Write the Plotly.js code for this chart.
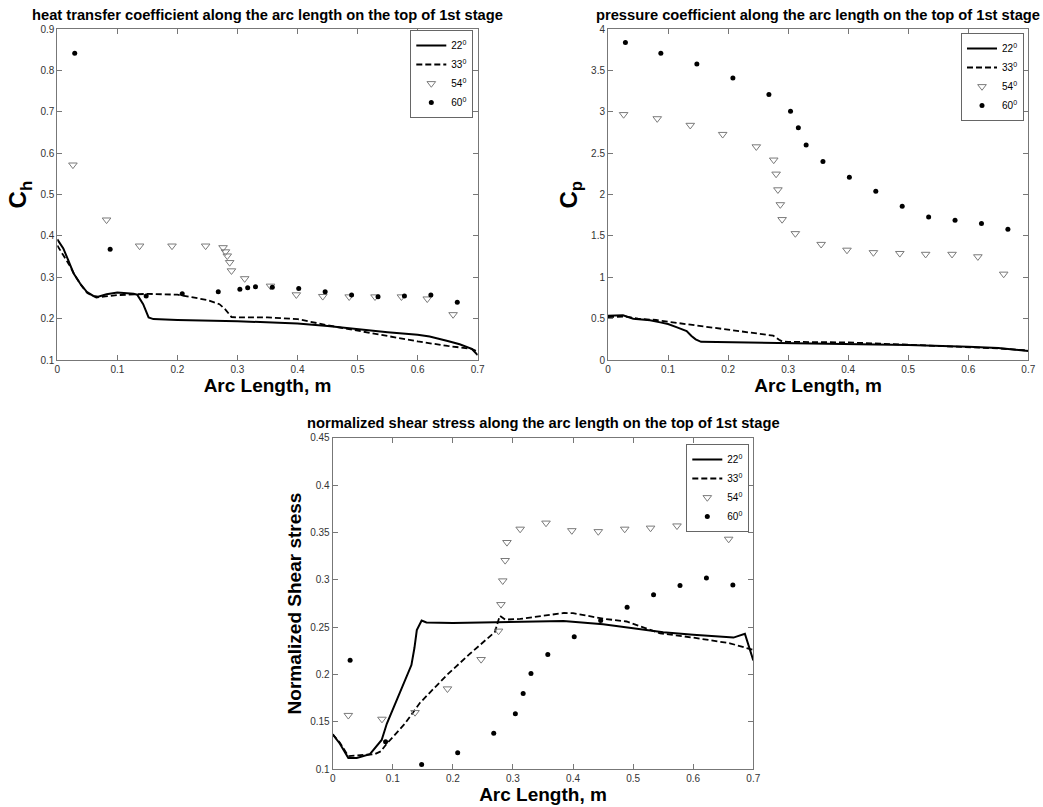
<!DOCTYPE html>
<html>
<head>
<meta charset="utf-8">
<script src="https://cdn.plot.ly/plotly-3.0.1.min.js"></script>
<style>html,body{margin:0;padding:0;background:#fff;}#chart{width:1043px;height:807px;}</style>
</head>
<body>
<div id="chart"></div>
<script>
// ---------- data ----------
const legendNames = ['22<sup>0</sup>', '33<sup>0</sup>', '54<sup>0</sup>', '60<sup>0</sup>'];
const xTickVals = [0, 0.1, 0.2, 0.3, 0.4, 0.5, 0.6, 0.7];
const xTickText = ['0', '0.1', '0.2', '0.3', '0.4', '0.5', '0.6', '0.7'];

// heat transfer coefficient (Ch)
const x22_ch = [0, 0.01, 0.018, 0.027, 0.038, 0.049, 0.06, 0.068, 0.082, 0.1, 0.127, 0.133, 0.143, 0.152, 0.16, 0.2, 0.3, 0.4, 0.45, 0.5, 0.55, 0.6, 0.62, 0.65, 0.67, 0.69, 0.7];
const y22_ch = [0.392, 0.37, 0.342, 0.31, 0.285, 0.265, 0.255, 0.253, 0.259, 0.263, 0.26, 0.258, 0.235, 0.203, 0.199, 0.197, 0.194, 0.188, 0.182, 0.174, 0.167, 0.161, 0.157, 0.146, 0.138, 0.127, 0.112];
const x33_ch = [0, 0.01, 0.02, 0.03, 0.04, 0.05, 0.065, 0.08, 0.1, 0.15, 0.2, 0.22, 0.25, 0.27, 0.28, 0.29, 0.3, 0.35, 0.4, 0.45, 0.5, 0.55, 0.6, 0.65, 0.69, 0.7];
const y33_ch = [0.377, 0.355, 0.33, 0.303, 0.28, 0.262, 0.251, 0.254, 0.257, 0.26, 0.258, 0.253, 0.245, 0.235, 0.222, 0.204, 0.203, 0.203, 0.199, 0.184, 0.171, 0.159, 0.145, 0.134, 0.127, 0.12];

// pressure coefficient (Cp)
const x22_cp = [0, 0.025, 0.042, 0.07, 0.087, 0.1, 0.115, 0.131, 0.139, 0.146, 0.155, 0.2, 0.3, 0.4, 0.5, 0.6, 0.65, 0.7];
const y22_cp = [0.535, 0.54, 0.50, 0.48, 0.455, 0.435, 0.395, 0.35, 0.29, 0.25, 0.22, 0.215, 0.21, 0.195, 0.18, 0.16, 0.145, 0.11];
const x33_cp = [0, 0.03, 0.05, 0.08, 0.1, 0.15, 0.2, 0.25, 0.275, 0.285, 0.29, 0.3, 0.4, 0.5, 0.6, 0.65, 0.7];
const y33_cp = [0.52, 0.525, 0.50, 0.484, 0.463, 0.415, 0.37, 0.325, 0.295, 0.245, 0.225, 0.22, 0.212, 0.185, 0.155, 0.14, 0.115];

// normalized shear stress
const x22_ss = [0, 0.012, 0.026, 0.04, 0.062, 0.07, 0.0815, 0.09, 0.1065, 0.12, 0.131, 0.136, 0.14, 0.148, 0.156, 0.2, 0.3, 0.384, 0.45, 0.495, 0.55, 0.6, 0.667, 0.686, 0.7];
const y22_ss = [0.137, 0.127, 0.112, 0.112, 0.116, 0.122, 0.131, 0.148, 0.173, 0.193, 0.21, 0.228, 0.247, 0.257, 0.255, 0.2545, 0.2555, 0.2566, 0.253, 0.249, 0.2446, 0.242, 0.239, 0.243, 0.215];
const x33_ss = [0, 0.012, 0.026, 0.05, 0.07, 0.08, 0.09, 0.12, 0.145, 0.19, 0.2285, 0.27, 0.278, 0.287, 0.312, 0.35, 0.385, 0.4, 0.45, 0.489, 0.545, 0.6, 0.661, 0.7];
const y33_ss = [0.137, 0.128, 0.114, 0.115, 0.116, 0.119, 0.127, 0.148, 0.17, 0.1995, 0.222, 0.245, 0.262, 0.258, 0.2587, 0.262, 0.265, 0.2648, 0.259, 0.256, 0.2435, 0.239, 0.233, 0.226];

// 54 deg (triangles) - shared arc length stations
const x54 = [0.026, 0.082, 0.137, 0.191, 0.247, 0.276, 0.280, 0.283, 0.287, 0.290, 0.312, 0.355, 0.398, 0.442, 0.486, 0.529, 0.573, 0.616, 0.659];
const y54_ch = [0.572, 0.439, 0.376, 0.376, 0.376, 0.372, 0.362, 0.352, 0.336, 0.316, 0.297, 0.279, 0.258, 0.254, 0.253, 0.253, 0.253, 0.248, 0.210];
const y54_cp = [2.97, 2.92, 2.84, 2.73, 2.58, 2.42, 2.25, 2.06, 1.88, 1.70, 1.53, 1.40, 1.33, 1.30, 1.29, 1.28, 1.28, 1.25, 1.04];
const y54_ss = [0.157, 0.153, 0.160, 0.185, 0.216, 0.246, 0.274, 0.299, 0.3205, 0.3395, 0.3536, 0.360, 0.352, 0.351, 0.3536, 0.3547, 0.357, 0.3547, 0.343];

// 60 deg (dots)
const x60 = [0.029, 0.088, 0.148, 0.208, 0.268, 0.304, 0.317, 0.330, 0.358, 0.402, 0.446, 0.490, 0.534, 0.578, 0.622, 0.666];
const y60_ch = [0.842, 0.368, 0.255, 0.26, 0.265, 0.271, 0.275, 0.277, 0.276, 0.273, 0.265, 0.257, 0.253, 0.255, 0.257, 0.240];
const y60_cp = [3.84, 3.71, 3.58, 3.41, 3.21, 3.01, 2.81, 2.60, 2.40, 2.21, 2.04, 1.86, 1.73, 1.69, 1.65, 1.58];
const y60_ss = [0.215, 0.129, 0.105, 0.1176, 0.138, 0.1587, 0.18, 0.201, 0.2213, 0.24, 0.257, 0.271, 0.2843, 0.294, 0.302, 0.2945];

const panelTitles = [
  'heat transfer coefficient along the arc length on the top of 1st stage',
  'pressure coefficient along the arc length on the top of 1st stage',
  'normalized shear stress along the arc length on the top of 1st stage'
];
const yTitles = ['C<sub>h</sub>', 'C<sub>p</sub>', 'Normalized Shear stress'];
const yTicks1 = [0.1, 0.2, 0.3, 0.4, 0.5, 0.6, 0.7, 0.8, 0.9];
const yTickText1 = ['0.1', '0.2', '0.3', '0.4', '0.5', '0.6', '0.7', '0.8', '0.9'];
const yTicks2 = [0, 0.5, 1, 1.5, 2, 2.5, 3, 3.5, 4];
const yTickText2 = ['0', '0.5', '1', '1.5', '2', '2.5', '3', '3.5', '4'];
const yTicks3 = [0.1, 0.15, 0.2, 0.25, 0.3, 0.35, 0.4, 0.45];
const yTickText3 = ['0.1', '0.15', '0.2', '0.25', '0.3', '0.35', '0.4', '0.45'];

// ---------- styles ----------
const W = 1043, H = 807;
const FONT = 'Liberation Sans, Arial, sans-serif';
const solid = {color: '#000', width: 2, dash: 'solid'};
const dashed = {color: '#000', width: 1.8, dash: '6px,3px'};
const triMarker = {symbol: 'triangle-down-open', size: 7.5, color: '#7a7a7a', line: {width: 1, color: '#7a7a7a'}};
const dotMarker = {symbol: 'circle', size: 5, color: '#000'};

function panelTraces(xa, ya, leg, x22, y22, x33, y33, y54, y60) {
  return [
    {x: x22, y: y22, xaxis: xa, yaxis: ya, legend: leg, type: 'scatter', mode: 'lines', line: solid, name: legendNames[0]},
    {x: x33, y: y33, xaxis: xa, yaxis: ya, legend: leg, type: 'scatter', mode: 'lines', line: dashed, name: legendNames[1]},
    {x: x54, y: y54, xaxis: xa, yaxis: ya, legend: leg, type: 'scatter', mode: 'markers', marker: triMarker, name: legendNames[2]},
    {x: x60, y: y60, xaxis: xa, yaxis: ya, legend: leg, type: 'scatter', mode: 'markers', marker: dotMarker, name: legendNames[3]}
  ];
}

const data = [].concat(
  panelTraces('x', 'y', 'legend', x22_ch, y22_ch, x33_ch, y33_ch, y54_ch, y60_ch),
  panelTraces('x2', 'y2', 'legend2', x22_cp, y22_cp, x33_cp, y33_cp, y54_cp, y60_cp),
  panelTraces('x3', 'y3', 'legend3', x22_ss, y22_ss, x33_ss, y33_ss, y54_ss, y60_ss)
);

// pixel boxes of the three plot areas
const boxes = [
  {l: 57.3, r: 477.7, t: 29.3, b: 360},
  {l: 608, r: 1028.3, t: 29.3, b: 360},
  {l: 332.7, r: 753.3, t: 437.7, b: 769.3}
];
const dx = b => [b.l / W, b.r / W];
const dy = b => [1 - b.b / H, 1 - b.t / H];

function xAxis(b, anchor) {
  return {
    domain: dx(b), anchor: anchor, range: [0, 0.7],
    tickvals: xTickVals, ticktext: xTickText,
    ticks: 'inside', ticklen: 5, tickcolor: '#777', showline: true, linecolor: '#777', linewidth: 1,
    mirror: 'allticks', showgrid: false, zeroline: false, automargin: false,
    tickfont: {family: FONT, size: 10, color: '#333'},
    title: {text: '<b>Arc Length, m</b>', font: {family: FONT, size: 19, color: '#000'}, standoff: 4}
  };
}
function yAxis(b, anchor, range, tv, tt, title, tsize, standoff) {
  return {
    domain: dy(b), anchor: anchor, range: range,
    tickvals: tv, ticktext: tt,
    ticks: 'inside', ticklen: 5, tickcolor: '#777', showline: true, linecolor: '#777', linewidth: 1,
    mirror: 'allticks', showgrid: false, zeroline: false, automargin: false,
    tickfont: {family: FONT, size: 10, color: '#333'},
    title: {text: '<b>' + title + '</b>', font: {family: FONT, size: tsize, color: '#000'}, standoff: standoff}
  };
}
function legendBox(rightPx, topPx) {
  return {
    x: rightPx / W, y: 1 - topPx / H, xanchor: 'right', yanchor: 'top',
    bgcolor: '#fff', bordercolor: '#666', borderwidth: 1,
    font: {family: FONT, size: 10, color: '#000'}, itemwidth: 30, tracegroupgap: 0
  };
}

const titleY = [15, 15, 423];
const annotations = boxes.map((b, i) => ({
  xref: 'paper', yref: 'paper', x: (b.l + b.r) / 2 / W, y: 1 - titleY[i] / H,
  xanchor: 'center', yanchor: 'middle', showarrow: false,
  text: '<b>' + panelTitles[i] + '</b>', font: {family: FONT, size: 14.7, color: '#000'}
}));

const layout = {
  width: W, height: H, margin: {l: 0, r: 0, t: 0, b: 0},
  paper_bgcolor: '#fff', plot_bgcolor: '#fff',
  font: {family: FONT, color: '#000'},
  showlegend: true,
  xaxis: xAxis(boxes[0], 'y'),
  yaxis: yAxis(boxes[0], 'x', [0.1, 0.9], yTicks1, yTickText1, yTitles[0], 24, 6),
  xaxis2: xAxis(boxes[1], 'y2'),
  yaxis2: yAxis(boxes[1], 'x2', [0, 4], yTicks2, yTickText2, yTitles[1], 24, 6),
  xaxis3: xAxis(boxes[2], 'y3'),
  yaxis3: yAxis(boxes[2], 'x3', [0.1, 0.45], yTicks3, yTickText3, yTitles[2], 19, 3),
  legend: legendBox(473.3, 30),
  legend2: legendBox(1024, 33),
  legend3: legendBox(749.3, 444),
  annotations: annotations
};

Plotly.newPlot('chart', data, layout, {displayModeBar: false, staticPlot: true});
</script>
</body>
</html>
